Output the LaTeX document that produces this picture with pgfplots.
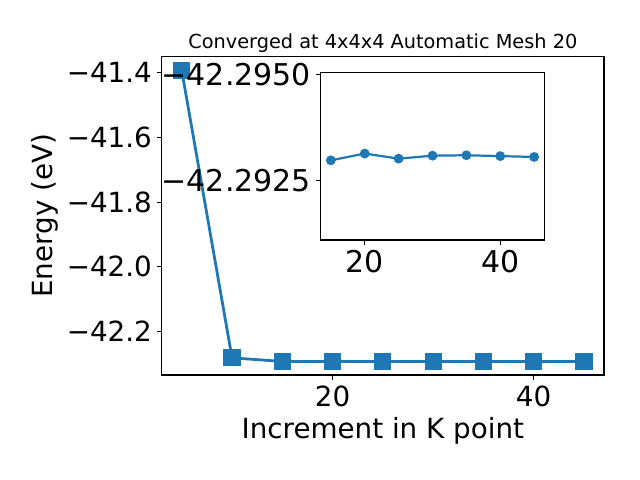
\documentclass[border=0pt]{standalone}
\usepackage{fontspec}
\setmainfont{DejaVu Sans}
\usepackage{pgfplots}
\pgfplotsset{compat=1.18}
\definecolor{mplblue}{HTML}{1F77B4}
\begin{document}
\begin{tikzpicture}
\path[use as bounding box] (0,0) rectangle (460.8pt,345.6pt);
% main axis
\begin{axis}[
  at={(116.4pt,75.6pt)}, anchor=south west,
  scale only axis, width=318.5pt, height=229.2pt,
  xmin=3, xmax=47, ymin=-42.335, ymax=-41.350,
  axis line style={line width=0.8pt},
  tick align=outside, major tick length=3.5pt,
  every tick/.style={black, line width=0.8pt},
  xtick={20,40}, xticklabels={20,40},
  ytick={-42.2,-42.0,-41.8,-41.6,-41.4},
  yticklabels={−42.2,−42.0,−41.8,−41.6,−41.4},
  xtick pos=bottom, ytick pos=left,
  tick label style={font=\fontsize{20}{24}\selectfont},
  xticklabel style={yshift=-0.5pt},
  xlabel={Increment in K point}, ylabel={Energy (eV)},
  every axis x label/.style={at={(axis description cs:0.5,-0.176)}, anchor=center, font=\fontsize{20}{24}\selectfont},
  every axis y label/.style={at={(axis description cs:-0.265,0.5)}, rotate=90, anchor=center, font=\fontsize{20}{24}\selectfont},
  title={Converged at 4x4x4 Automatic Mesh 20},
  every axis title/.style={at={(axis description cs:0.5,1)}, anchor=base, yshift=5.9pt, font=\fontsize{13.9}{16}\selectfont},
  clip=false,
]
\addplot[mplblue, line width=2pt, mark=square*, mark size=5.2pt, mark options={solid, fill=mplblue}] coordinates {
(5,-41.393) (10,-42.282) (15,-42.293) (20,-42.293) (25,-42.293) (30,-42.293) (35,-42.293) (40,-42.293) (45,-42.293)
};
\end{axis}
% inset axis
\begin{axis}[
  at={(230.9pt,172.8pt)}, anchor=south west,
  scale only axis, width=161pt, height=120.5pt,
  xmin=13.5, xmax=46.5, ymin=-42.29505, ymax=-42.2911,
  y dir=reverse,
  axis background/.style={fill=white},
  axis line style={line width=0.8pt},
  tick align=outside, major tick length=3.5pt,
  every tick/.style={black, line width=0.8pt},
  xtick={20,40}, xticklabels={20,40},
  ytick={-42.2950,-42.2925},
  yticklabels={−42.2950,−42.2925},
  xtick pos=bottom, ytick pos=left,
  tick label style={font=\fontsize{21.6}{25}\selectfont},
  scaled y ticks=false,
]
\addplot[mplblue, line width=1.6pt, mark=*, mark size=2.7pt, mark options={solid, fill=mplblue}] coordinates {
(15,-42.29298) (20,-42.29314) (25,-42.29302) (30,-42.29309) (35,-42.29310) (40,-42.29308) (45,-42.29306)
};
\end{axis}
\end{tikzpicture}
\end{document}
